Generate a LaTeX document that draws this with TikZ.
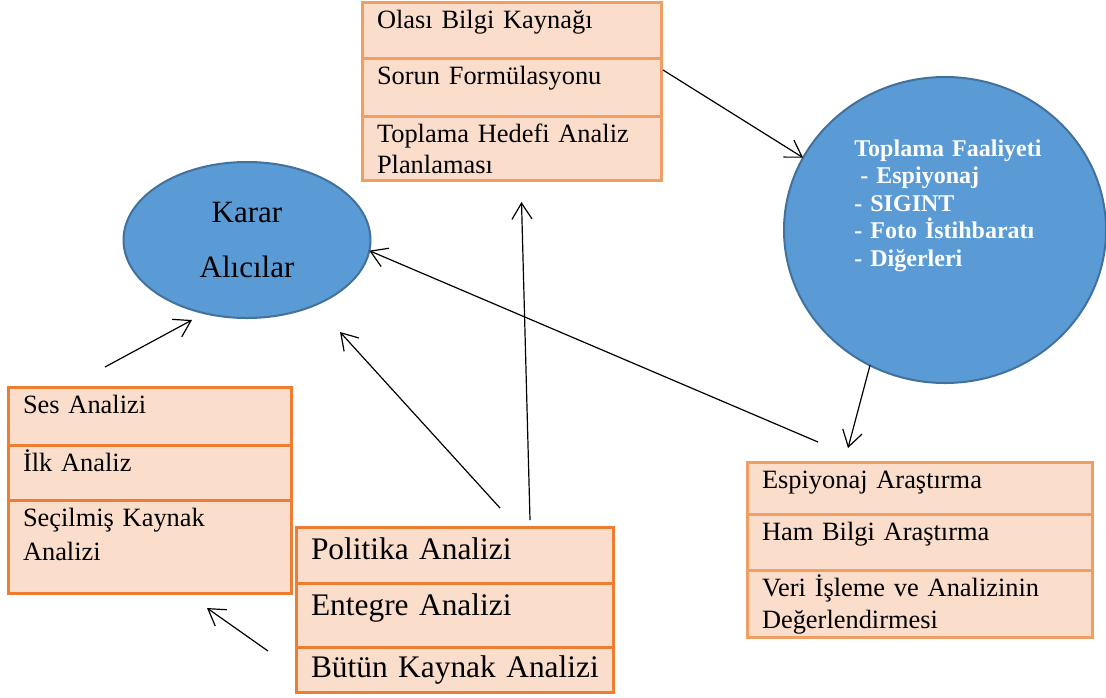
\documentclass[tikz,border=0pt]{standalone}
\usepackage{fontspec}
\setmainfont{Liberation Serif}
\usepackage{tikz}
\usetikzlibrary{positioning}
\usetikzlibrary{arrows.meta}
\usetikzlibrary{shapes.geometric}
\usetikzlibrary{calc}
\definecolor{boxfill}{RGB}{251,221,204}
\definecolor{orangedark}{RGB}{237,125,49}
\definecolor{orangelight}{RGB}{241,158,100}
\definecolor{bluefill}{RGB}{91,155,213}
\definecolor{blueline}{RGB}{65,113,156}

\begin{document}
\begin{tikzpicture}
    [x=0.5pt,y=-0.5pt,
     cell/.style={rectangle,fill=boxfill,line width=1.5pt,inner xsep=7.5pt,inner ysep=0pt,outer sep=0pt,align=left,text height=13pt,font=\fontsize{13.2}{15.5}\selectfont},
     bigcell/.style={cell,text height=16pt,font=\fontsize{15.7}{17}\selectfont},
     bluenode/.style={ellipse,fill=bluefill,draw=blueline,line width=1pt,inner sep=0pt,outer sep=0pt},
     arr/.style={-{Straight Barb[length=8pt,width=10pt]},line width=0.6pt}]
    \useasboundingbox (0,0) rectangle (1106,697);
    % top stack
    \node [cell,draw=orangelight,text width=134.5pt,text depth=15pt,anchor=north west] (olasi) at (362,2) {Olası Bilgi Kaynağı};
    \node [cell,draw=orangelight,text width=134.5pt,text depth=16pt,below=0pt of olasi] (sorun) {Sorun Formülasyonu};
    \node [cell,draw=orangelight,text width=134.5pt,text depth=19pt,below=0pt of sorun] (toplama) {Toplama Hedefi Analiz\\Planlaması};
    % ellipses
    \node [bluenode,minimum width=123.5pt,minimum height=78pt,align=center,font=\fontsize{15.5}{27.5}\selectfont] (karar) at (247,240) {Karar\\Alıcılar};
    \node [bluenode,minimum width=161pt,minimum height=153pt] (circ) at (945,230) {};
    \node [anchor=north west,inner sep=0pt,text width=100pt,text height=9pt,align=left,text=white,font=\fontsize{12}{13.75}\selectfont\bfseries] (circtext) at (854,138) {Toplama Faaliyeti\\\hspace*{3pt}- Espiyonaj\\- SIGINT\\- Foto İstihbaratı\\- Diğerleri};
    % left stack
    \node [cell,draw=orangedark,text width=126.5pt,text depth=16pt,anchor=north west] (ses) at (8,387) {Ses Analizi};
    \node [cell,draw=orangedark,text width=126.5pt,text depth=14.5pt,below=0pt of ses] (ilk) {İlk Analiz};
    \node [cell,draw=orangedark,text width=126.5pt,text depth=33.5pt,below=0pt of ilk,font=\fontsize{13.2}{17}\selectfont] (secilmis) {Seçilmiş Kaynak\\Analizi};
    % bottom middle stack
    \node [bigcell,draw=orangedark,text width=143.5pt,text depth=12pt,anchor=north west] (politika) at (296,527) {Politika Analizi};
    \node [bigcell,draw=orangedark,text width=143.5pt,text depth=16pt,below=0pt of politika] (entegre) {Entegre Analizi};
    \node [bigcell,draw=orangedark,text width=143.5pt,text height=15pt,text depth=7.5pt,below=0pt of entegre] (butun) {\mbox{Bütün Kaynak Analizi}};
    % right stack
    \node [cell,draw=orangelight,text width=157.5pt,text depth=13pt,anchor=north west] (espiyonaj) at (747,462) {Espiyonaj Araştırma};
    \node [cell,draw=orangelight,text width=157.5pt,text depth=15pt,below=0pt of espiyonaj] (ham) {Ham Bilgi Araştırma};
    \node [cell,draw=orangelight,text width=157.5pt,text depth=20.5pt,below=0pt of ham,font=\fontsize{13.2}{16}\selectfont] (veri) {Veri İşleme ve Analizinin\\Değerlendirmesi};
    % arrows
    \draw[arr] ($(olasi.south east)+(2,12)$) -- (circ.153);
    \draw[arr] (circ.-119) -- ($(espiyonaj.north west)+(101,-14)$);
    \draw[arr] ($(espiyonaj.north west)+(71,-20)$) -- (karar.-5);
    \draw[arr] ($(politika.north west)+(234,-7)$) -- ($(toplama.south)+(10,22)$);
    \draw[arr] ($(politika.north west)+(204,-19)$) -- ($(karar.center)+(93,92)$);
    \draw[arr] ($(entegre.south west)+(-28,4)$) -- ($(secilmis.south east)+(-84,15)$);
    \draw[arr] ($(ses.north west)+(97,-20)$) -- ($(karar.center)+(-55,80)$);
\end{tikzpicture}
\end{document}
